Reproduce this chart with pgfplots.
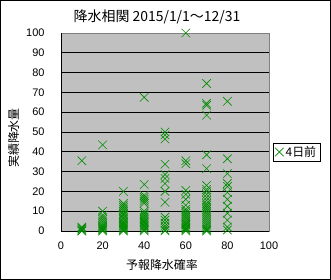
\documentclass[border=0pt]{standalone}
\usepackage{fontspec}
\setmainfont{Liberation Sans}
\newfontfamily\jp{Noto Sans CJK JP}
\usepackage{pgfplots}
\pgfplotsset{compat=1.18}
\definecolor{mk}{RGB}{0,140,0}
\definecolor{bg}{RGB}{192,192,192}
\pgfplotstableread{
x y
10 35.5
10 2
10 1.5
10 1
10 0.5
10 0
10 0
20 43.5
20 10
20 8
20 7
20 6
20 5
20 4
20 3
20 2.5
20 2
20 1.5
20 1
20 0.5
20 0
30 20
30 14
30 13
30 12
30 11
30 10
30 9
30 8.5
30 8
30 7
30 6.5
30 6
30 5
30 4.5
30 4
30 3.5
30 3
30 2.5
30 2
30 1.5
30 1
30 0.5
30 0
40 67.5
40 23.5
40 18
40 17
40 16
40 15
40 14
40 10
40 9
40 8
40 7
40 6
40 5
40 4.5
40 4
40 3
40 2.5
40 2
40 1
40 0.5
40 0
50 50
50 48.5
50 46.5
50 33.7
50 28.5
50 26.5
50 24
50 20
50 14.5
50 7
50 5.5
50 4
50 2.5
50 1.5
50 0.5
50 0
60 100
60 35.5
60 34
60 20.5
60 18.5
60 16
60 13
60 11
60 10
60 9
60 8
60 7
60 6
60 5
60 4
60 3.5
60 3
60 2
60 1.5
60 1
60 0.5
60 0
70 74.5
70 64.5
70 63.5
70 58.5
70 38.5
70 31.5
70 23
70 21
70 20
70 18.5
70 17
70 15.5
70 14
70 13
70 12
70 11
70 10
70 9
70 8
70 7
70 6
70 5
70 4
70 3
70 2
70 1
70 0.5
70 0
80 65.5
80 36.5
80 29
80 24
80 22.5
80 19.5
80 16
80 12.5
80 9
80 5.5
80 2
80 0.5
}\datatable
\begin{document}
\begin{tikzpicture}[x=1bp,y=1bp]
\useasboundingbox (0,0) rectangle (331,-280);
\draw[line width=1bp] (0.5,-0.5) rectangle (330.5,-279.5);
\begin{axis}[
  scale only axis, width=208bp, height=198bp,
  at={(61bp,-231bp)}, anchor=south west,
  xmin=0, xmax=100, ymin=0, ymax=100,
  xtick={0,20,...,100}, ytick={0,10,...,100},
  major tick length=0pt,
  axis background/.style={fill=bg},
  axis line style={draw=gray, line width=0.8bp},
  tick label style={font=\fontsize{11}{12}\selectfont},
  /pgf/number format/assume math mode=true,
  yticklabel style={xshift=-13bp},
  xticklabel style={yshift=-7bp},
  clip=false,
  legend style={at={(1.019,0.399)}, anchor=west, draw=black, fill=white,
    font=\jp\fontsize{12}{14}\selectfont, inner xsep=2bp, inner ysep=1bp,
    legend cell align=left},
  legend image code/.code={\draw[#1] plot coordinates {(4bp,0bp)};},
]
\pgfplotsinvokeforeach{10,20,...,90}{\draw[black, line width=0.8bp] (axis cs:0,#1) -- (axis cs:100,#1);}
\draw[black, line width=0.8bp] (axis cs:0,0) -- (axis cs:0,100);
\draw[black, line width=0.8bp] (axis cs:0,0) -- (axis cs:100,0);
\addplot[only marks, mark=x, mark size=6bp, color=mk, mark options={line width=0.6bp}] table[x=x,y=y] {\datatable};
\addlegendentry{4日前}
\end{axis}
\node[font=\jp\fontsize{14}{16}\selectfont] at (157,-17) {降水相関 2015/1/1～12/31};
\node[rotate=90, font=\jp\fontsize{12}{14}\selectfont] at (13.5,-138) {実績降水量};
\node[font=\jp\fontsize{12}{14}\selectfont] at (162,-265) {予報降水確率};
\end{tikzpicture}
\end{document}
